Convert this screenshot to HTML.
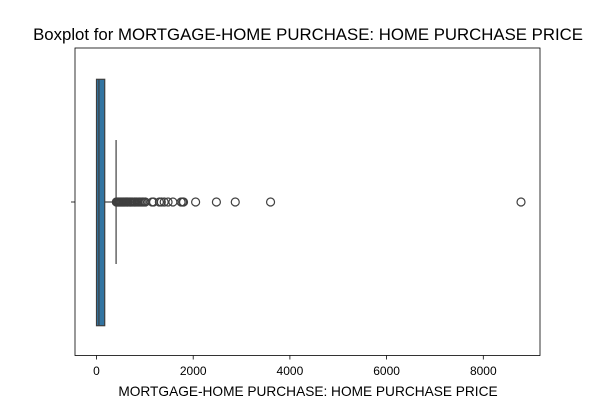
<!DOCTYPE html>
<html><head><meta charset="utf-8"><style>
body{margin:0;background:#fff;font-family:"Liberation Sans","DejaVu Sans",sans-serif}
</style></head><body>
<svg width="600" height="400" xmlns="http://www.w3.org/2000/svg">
<text x="308" y="40" font-size="16.8" text-anchor="middle">Boxplot for MORTGAGE-HOME PURCHASE: HOME PURCHASE PRICE</text>
<g id="plot"></g>
<rect x="75" y="48" width="465" height="307.5" fill="none" stroke="#000" stroke-width="0.8"/>
<text x="308" y="396" font-size="13.7" text-anchor="middle">MORTGAGE-HOME PURCHASE: HOME PURCHASE PRICE</text>
</svg>
<script>
const tickValues=[0,2000,4000,6000,8000];
const tickLabels=["0","2000","4000","6000","8000"];
const q1=[0];
const median=[50];
const q3=[170];
const whiskerLow=[0];
const whiskerHigh=[405];
const outliers=[410,430,450,470,490,510,530,550,570,590,610,630,650,680,700,720,750,780,800,830,860,890,920,950,980,1010,1150,1180,1300,1340,1400,1480,1580,1750,1780,1800,2050,2480,2870,3600,8780];
const NS="http://www.w3.org/2000/svg";
const g=document.getElementById('plot');
const x=v=>96.5+v*0.04835;
const cy=202, boxTop=79.3, boxBot=325.7;
function mk(t,a){const e=document.createElementNS(NS,t);for(const k in a)e.setAttribute(k,a[k]);g.appendChild(e);return e;}
tickValues.forEach((v,i)=>{
 const l=mk('line',{x1:x(v),x2:x(v),y1:355.5,y2:359.5,stroke:'#000','stroke-width':0.8});
 
 
 const t=mk('text',{x:x(v),y:375,'font-size':12,'text-anchor':'middle'});
 t.textContent=tickLabels[i];
 
 
});
const yt=mk('line',{x1:71,x2:75,y1:cy,y2:cy,stroke:'#000','stroke-width':0.8});


const wl=mk('line',{x1:x(q3[0]),x2:x(whiskerHigh[0]),y1:cy,y2:cy,stroke:'#3f3f3f','stroke-width':1.2});


const cap=mk('line',{x1:x(whiskerHigh[0]),x2:x(whiskerHigh[0]),y1:140,y2:264,stroke:'#3f3f3f','stroke-width':1.2});


const box=mk('rect',{x:x(q1[0]),y:boxTop,width:x(q3[0])-x(q1[0]),height:boxBot-boxTop,fill:'#3274a1',stroke:'#3f3f3f','stroke-width':1.2});


const md=mk('line',{x1:x(median[0]),x2:x(median[0]),y1:boxTop,y2:boxBot,stroke:'#3f3f3f','stroke-width':1.2});


outliers.forEach(v=>{
 const c=mk('circle',{cx:x(v),cy:cy,r:4,fill:'none',stroke:'#3f3f3f','stroke-width':1.2});
 
 
});
</script>
</body></html>
